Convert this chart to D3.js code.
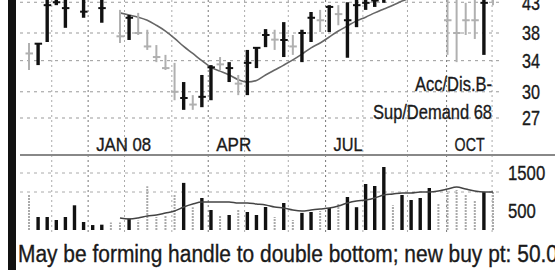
<!DOCTYPE html>
<html>
<head>
<meta charset="utf-8">
<script src="https://cdn.jsdelivr.net/npm/d3@7"></script>
<style>
  body { margin: 0; background: #fff; }
  svg { display: block; }
  text { font-family: "Liberation Sans", Arial, sans-serif; fill: #1a1a1a; stroke: #1a1a1a; stroke-width: 0.35; }
</style>
</head>
<body>
<div id="chart"></div>
<script>
// weekly bars, index 0..51
const priceHigh = [36.5, 36.5, 44.6, 44.8, 44.5, 46.0, 44.6, 46.0, 44.6, 45.5,
  41.7, 40.85, 41.2, 38.5, 36.2, 34.8, 33.7, 31.2, 29.6, 32.1,
  33.4, 34.5, 33.8, 32.1, 35.5, 35.9, 38.6, 38.5, 39.7, 37.7,
  38.5, 41.35, 41.7, 42.5, 42.5, 43.0, 44.3, 44.5, 44.8, 45.0,
  46.5, 47.0, 47.0, 46.5, 46.0, 46.0, 45.5, 45.5, 42.9, 45.5,
  45.5, 45.5];
const priceLow = [32.75, 33.4, 36.65, 42.5, 38.8, 44.3, 40.4, 44.4, 39.6, 44.2,
  36.5, 36.95, 37.7, 35.5, 33.8, 32.75, 29.0, 27.9, 27.9, 28.2,
  29.0, 32.75, 31.2, 29.6, 29.6, 33.0, 35.9, 35.5, 34.5, 34.8,
  33.8, 36.65, 38.15, 38.15, 39.2, 34.4, 38.9, 41.7, 42.2, 42.9,
  44.2, 44.6, 44.5, 44.3, 44.2, 44.2, 34.8, 33.8, 37.7, 37.1,
  34.8, 42.5];
const priceClose = [35.0, 36.4, 42.5, 43.0, 42.0, 45.0, 41.4, 45.2, 42.0, 44.8,
  37.5, 40.4, 38.0, 36.0, 34.5, 33.0, 30.0, 29.26, 28.5, 29.4,
  33.1, 33.5, 33.0, 31.0, 33.7, 35.8, 37.7, 37.0, 36.95, 36.0,
  38.0, 40.4, 40.0, 42.2, 41.0, 40.0, 42.5, 42.9, 43.3, 44.0,
  45.5, 46.0, 45.5, 45.0, 45.0, 45.2, 40.0, 38.0, 40.0, 40.0,
  42.9, 44.0];
// 1 = light grey bar
const faintWeek = [1, 0, 0, 0, 0, 0, 0, 0, 0, 1,
  1, 0, 1, 1, 1, 1, 1, 0, 1, 0,
  0, 1, 0, 1, 0, 0, 0, 1, 0, 1,
  0, 0, 1, 0, 1, 0, 0, 0, 0, 0,
  1, 0, 0, 0, 0, 1, 1, 1, 1, 1,
  0, 1];
const volume = [950, 342, 342, 263, 342, 650, 210, 130, 140, 200,
  200, 300, 250, 1150, 340, 395, 950, 1240, 600, 842,
  526, 395, 395, 526, 474, 395, 605, 342, 710, 263,
  450, 474, 500, 579, 700, 868, 600, 1210, 1158, 1658,
  650, 921, 789, 842, 1105, 700, 974, 1050, 920, 790,
  1000, 1000];
const priceAvg = [null, null, null, null, null, null, null, null, null, null,
  41.2, 40.85, 40.5, 40.0, 39.2, 38.3, 37.2, 36.0, 35.0, 34.0,
  33.1, 32.6, 32.1, 31.5, 31.2, 31.4, 32.1, 32.75, 33.4, 34.1,
  34.9, 35.8, 36.5, 37.4, 38.3, 39.1, 39.9, 40.5, 41.2, 41.85,
  42.5, 43.2, 43.8, 44.3, 44.8, 45.2, 45.5, 45.8, 46.0, 46.0,
  46.0, 46.0];
const volumeAvg = [null, null, null, null, null, null, null, null, null, null,
  316, 289, 316, 368, 395, 447, 500, 605, 684, 737,
  737, 737, 737, 710, 710, 684, 658, 605, 579, 526,
  500, 526, 553, 579, 632, 710, 763, 789, 842, 921,
  947, 974, 974, 1000, 1000, 1026, 1079, 1132, 1079, 1026,
  1000, 1000];

const monthStarts = [2.5, 6.5, 10.5, 15.7, 19.7, 23.7, 28.5, 32.6, 36.7, 41.6, 45.9, 50.9];
const quarterStarts = [6.5, 19.7, 32.6, 45.9];
const quarterNames = ["JAN 08", "APR", "JUL", "OCT"];
const quarterWidths = [55, 35, 29, 30];
const priceTicks = [43, 38, 34, 30, 27];
const volumeTicks = [1500, 500];
const volumeGrid = [1500, 1000];

const width = 555, height = 270;
const svg = d3.select('#chart').append('svg')
  .attr('width', width)
  .attr('height', height);

const x = d3.scaleLinear().domain([0, 51]).range([29, 493]);
const y = d3.scaleLog().domain([27, 38]).range([118, 33]);
const v = d3.scaleLinear().domain([0, 1500]).range([230, 173]);

// narrow look: squeeze text to the width seen in the picture
const squeeze = (sel, w) => sel.attr('textLength', w).attr('lengthAdjust', 'spacingAndGlyphs');

// left black edge
svg.append('rect').attr('x', 8).attr('y', 0).attr('width', 8).attr('height', height).attr('fill', '#111');

// vertical month grid
svg.append('g').selectAll('line').data(monthStarts).join('line')
  .attr('x1', d => x(d)).attr('x2', d => x(d))
  .attr('y1', 0).attr('y2', 232)
  .attr('stroke', d => quarterStarts.includes(d) ? '#777' : '#aaa')
  .attr('stroke-width', 1)
  .attr('stroke-dasharray', '2,3');

// horizontal price grid
svg.append('g').selectAll('line').data(priceTicks).join('line')
  .attr('x1', 20).attr('x2', 502)
  .attr('y1', d => y(d)).attr('y2', d => y(d))
  .attr('stroke', '#999')
  .attr('stroke-dasharray', '3,4');

// horizontal volume grid
svg.append('g').selectAll('line').data(volumeGrid).join('line')
  .attr('x1', 20).attr('x2', 502)
  .attr('y1', d => v(d)).attr('y2', d => v(d))
  .attr('stroke', '#aaa')
  .attr('stroke-dasharray', '3,4');

// separator between price and volume
svg.append('line').attr('x1', 20).attr('x2', width).attr('y1', 155).attr('y2', 155)
  .attr('stroke', '#888').attr('stroke-width', 2);

// price moving average
const maLine = d3.line()
  .defined(d => d.val != null)
  .x(d => x(d.i)).y(d => y(d.val))
  .curve(d3.curveMonotoneX);
svg.append('path')
  .datum(priceAvg.map((val, i) => ({ i, val })))
  .attr('d', maLine)
  .attr('fill', 'none')
  .attr('stroke', '#666')
  .attr('stroke-width', 1.6);

// price bars
const bars = svg.append('g');
priceHigh.forEach((hi, i) => {
  const faint = faintWeek[i] === 1;
  const col = faint ? '#b0b0b0' : '#111';
  bars.append('line')
    .attr('x1', x(i)).attr('x2', x(i))
    .attr('y1', y(hi)).attr('y2', y(priceLow[i]))
    .attr('stroke', col)
    .attr('stroke-width', faint ? 2 : 3.4);
  bars.append('line')
    .attr('x1', x(i) - 3.5).attr('x2', x(i) + 4)
    .attr('y1', y(priceClose[i])).attr('y2', y(priceClose[i]))
    .attr('stroke', col)
    .attr('stroke-width', 2);
});

// volume bars
svg.append('g').selectAll('line').data(volume).join('line')
  .attr('x1', (d, i) => x(i)).attr('x2', (d, i) => x(i))
  .attr('y1', v(0)).attr('y2', d => v(d))
  .attr('stroke', (d, i) => faintWeek[i] === 1 ? '#aaa' : '#111')
  .attr('stroke-width', (d, i) => faintWeek[i] === 1 ? 2 : 3.4)
  .attr('stroke-dasharray', (d, i) => faintWeek[i] === 1 ? '2,1' : null);

// volume moving average
const vLine = d3.line()
  .defined(d => d.val != null)
  .x(d => x(d.i)).y(d => v(d.val))
  .curve(d3.curveMonotoneX);
svg.append('path')
  .datum(volumeAvg.map((val, i) => ({ i, val })))
  .attr('d', vLine)
  .attr('fill', 'none')
  .attr('stroke', '#444')
  .attr('stroke-width', 1.5);

// labels
svg.append('g').selectAll('text').data(priceTicks).join('text')
  .attr('x', 522).attr('y', d => y(d)).attr('dy', '0.36em')
  .attr('font-size', 20.5)
  .attr('textLength', 18).attr('lengthAdjust', 'spacingAndGlyphs')
  .text(d => d);

svg.append('g').selectAll('text').data(volumeTicks).join('text')
  .attr('x', 508).attr('y', d => v(d)).attr('dy', '0.36em')
  .attr('font-size', 20.5)
  .attr('textLength', d => String(d).length * 9.3).attr('lengthAdjust', 'spacingAndGlyphs')
  .text(d => d);

svg.append('g').selectAll('text').data(quarterNames).join('text')
  .attr('x', (d, i) => x(quarterStarts[i]) + 8).attr('y', 151)
  .attr('font-size', 19)
  .attr('textLength', (d, i) => quarterWidths[i]).attr('lengthAdjust', 'spacingAndGlyphs')
  .text(d => d);

squeeze(svg.append('text').attr('x', 415).attr('y', 91)
  .attr('font-size', 21).text('Acc/Dis.B-'), 77);
squeeze(svg.append('text').attr('x', 373).attr('y', 119)
  .attr('font-size', 21).text('Sup/Demand 68'), 119);

squeeze(svg.append('text').attr('x', 18).attr('y', 262)
  .attr('font-size', 23.5)
  .text('May be forming handle to double bottom; new buy pt: 50.0'), 540);
</script>
</body>
</html>
